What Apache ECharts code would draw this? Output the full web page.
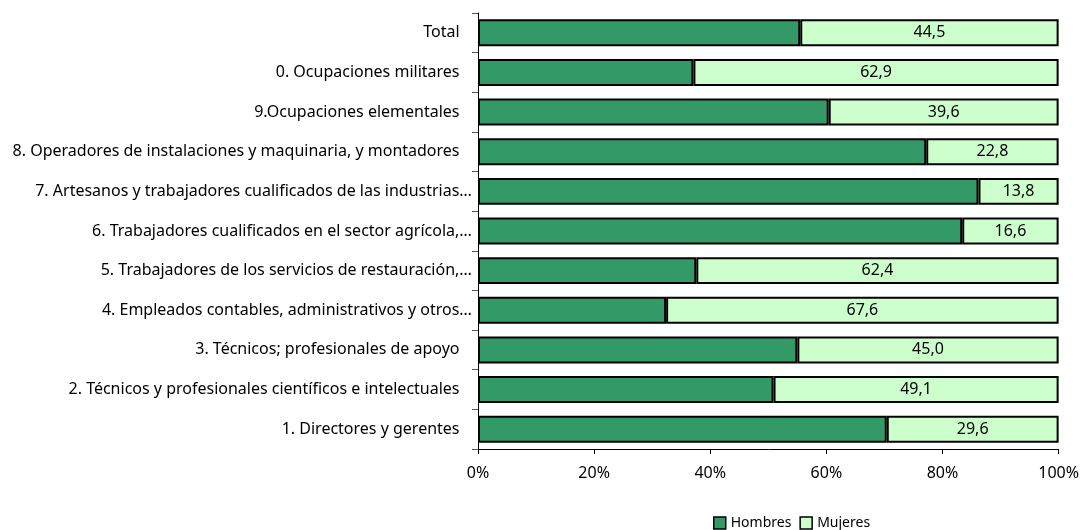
<!DOCTYPE html>
<html><head><meta charset="utf-8">
<script src="https://cdn.jsdelivr.net/npm/echarts@6/dist/echarts.min.js"></script>
<style>html,body{margin:0;padding:0;background:#fff}#c{width:1082px;height:530px}</style>
</head><body><div id="c"></div>
<script>
const categories = [
  "1. Directores y gerentes   ",
  "2. Técnicos y profesionales científicos e intelectuales   ",
  "3. Técnicos; profesionales de apoyo   ",
  "4. Empleados contables, administrativos y otros…",
  "5. Trabajadores de los servicios de restauración,…",
  "6. Trabajadores cualificados en el sector agrícola,…",
  "7. Artesanos y trabajadores cualificados de las industrias…",
  "8. Operadores de instalaciones y maquinaria, y montadores   ",
  "9.Ocupaciones elementales   ",
  "0. Ocupaciones militares   ",
  "Total   "
];
const hombres = [70.4, 50.9, 55.0, 32.4, 37.6, 83.4, 86.2, 77.2, 60.4, 37.1, 55.5];
const mujeres = [29.6, 49.1, 45.0, 67.6, 62.4, 16.6, 13.8, 22.8, 39.6, 62.9, 44.5];
const xTicks = [0, 20, 40, 60, 80, 100];

const FONT = "Noto Sans";
const chart = echarts.init(document.getElementById('c'), null, {renderer: 'canvas'});
chart.setOption({
  animation: false,
  textStyle: {fontFamily: FONT},
  grid: {left: 478, right: 23, top: 13, bottom: 81, containLabel: false},
  legend: {
    top: 511, left: 708, itemWidth: 12, itemHeight: 12, itemGap: 8,
    textStyle: {fontFamily: FONT, fontSize: 14, color: '#000'},
    data: [
      {name: 'Hombres', icon: 'rect', itemStyle: {borderColor: '#000', borderWidth: 1.5}},
      {name: 'Mujeres', icon: 'rect', itemStyle: {borderColor: '#000', borderWidth: 1.5}}
    ]
  },
  xAxis: {
    type: 'value', min: xTicks[0], max: xTicks[xTicks.length - 1], interval: 20,
    axisLine: {show: true, lineStyle: {color: '#000', width: 1}},
    axisTick: {show: true, length: 5, lineStyle: {color: '#000'}},
    splitLine: {show: false},
    axisLabel: {formatter: v => v + '%', color: '#000', fontSize: 16, fontFamily: FONT, margin: 16}
  },
  yAxis: {
    type: 'category', data: categories,
    axisLine: {show: true, lineStyle: {color: '#000', width: 1}},
    axisTick: {show: true, length: 6, lineStyle: {color: '#555'}},
    axisLabel: {color: '#000', fontSize: 16, fontFamily: FONT, margin: 6}
  },
  series: [
    {
      name: 'Hombres', type: 'bar', stack: 's', data: hombres, barWidth: '68%',
      itemStyle: {color: '#339966', borderColor: '#000', borderWidth: 2}
    },
    {
      name: 'Mujeres', type: 'bar', stack: 's', data: mujeres, barWidth: '68%',
      itemStyle: {color: '#ccffcc', borderColor: '#000', borderWidth: 2},
      label: {show: true, position: 'inside', color: '#000', fontSize: 16, fontFamily: FONT,
        formatter: p => p.value.toFixed(1).replace('.', ',')}
    }
  ]
});
</script></body></html>
